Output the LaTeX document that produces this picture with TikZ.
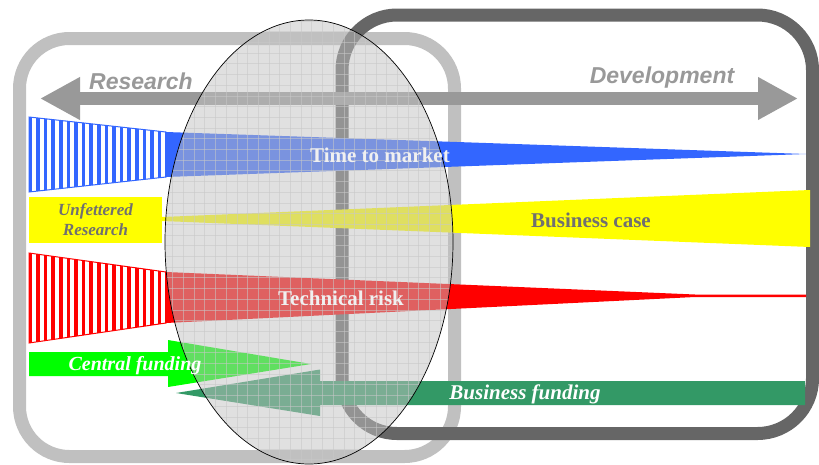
\documentclass[tikz,border=0pt]{standalone}
\usepackage{fontspec}
\setmainfont{Liberation Serif}
\setsansfont{Liberation Sans}
\usetikzlibrary{arrows.meta}
\definecolor{boxlight}{RGB}{192,192,192}
\definecolor{boxdark}{RGB}{102,102,102}
\definecolor{axisgray}{RGB}{153,153,153}
\definecolor{wedgeblue}{RGB}{51,102,255}
\definecolor{wedgered}{RGB}{255,0,0}
\definecolor{wedgeyellow}{RGB}{255,255,0}
\definecolor{fundgreen}{RGB}{0,255,0}
\definecolor{bizgreen}{RGB}{51,153,102}
\definecolor{lenscol}{RGB}{193,193,193}
\definecolor{gridcol}{RGB}{200,200,200}
\definecolor{labelgray}{RGB}{112,112,112}
\tikzset{phase/.style = {line width=13pt, rounded corners=50pt},
         axislabel/.style = {font=\sffamily\bfseries\itshape\fontsize{23}{23}\selectfont,
                             text=axisgray, inner sep=0pt},
         barlabel/.style = {font=\bfseries\fontsize{21}{21}\selectfont, inner sep=0pt},
         fundlabel/.style = {font=\bfseries\itshape\fontsize{20}{20}\selectfont,
                             text=white, inner sep=0pt},
         gridline/.style = {gridcol, draw opacity=0.55, line width=0.7pt}}

\begin{document}
\begin{tikzpicture}[x=1pt, y=-1pt]
    \useasboundingbox (0,0) rectangle (819,464);

    % research and development boxes
    \draw [phase, boxlight] (19.5,38.5) rectangle (454.5,456.5);
    \draw [phase, boxdark, rounded corners=55pt] (342,15) rectangle (812.5,433.5);

    \coordinate (west) at (40,98.5);
    \coordinate (east) at (798,98.5);
    \draw [axisgray, line width=13pt,
           {Triangle[length=40pt,width=40pt]}-{Triangle[length=40pt,width=40pt]}] (west) -- (east);
    \node [axislabel] (research) at (141,81) {Research};
    \node [axislabel] (development) at (662,78) {Development};

    % time to market
    \fill [wedgeblue] (166,132) -- (806,154) -- (166,177) -- cycle;
    \begin{scope}
      \clip (29,117) -- (166,132) -- (166,177) -- (29,192) -- cycle;
      \foreach \i in {0,...,18}
        \fill [wedgeblue] (28.5+\i*7.6,110) rectangle +(3.6,90);
    \end{scope}
    \draw [wedgeblue, line width=1pt] (29,117) -- (166,132) -- (166,177) -- (29,192) -- cycle;

    % business case
    \fill [wedgeyellow] (162,217) -- (810,190) -- (810,247) -- (162,221) -- cycle;

    % technical risk
    \fill [wedgered] (166,272) -- (695,294.5) -- (806,294.5) -- (806,297)
                     -- (695,297) -- (166,323) -- cycle;
    \begin{scope}
      \clip (29,253) -- (166,272) -- (166,323) -- (29,343) -- cycle;
      \foreach \i in {0,...,18}
        \fill [wedgered] (28.5+\i*7.6,245) rectangle +(3.6,105);
    \end{scope}
    \draw [wedgered, line width=1pt] (29,253) -- (166,272) -- (166,323) -- (29,343) -- cycle;

    % funding
    \fill [fundgreen] (29,352) -- (168,352) -- (168,340) -- (311,364) -- (168,387)
                      -- (168,376) -- (29,376) -- cycle;
    \fill [bizgreen] (176,393) -- (320,369.5) -- (320,381) -- (805,381) -- (805,405)
                     -- (320,405) -- (320,416) -- cycle;

    % overlap
    \fill [lenscol, fill opacity=0.5] (309,242) ellipse [x radius=144, y radius=222];
    \begin{scope}
      \clip (309,242) ellipse [x radius=144, y radius=222];
      \foreach \i in {0,...,28}
        \draw [gridline] (162+\i*10.7,15) -- +(0,460);
      \foreach \i in {0,...,42}
        \draw [gridline] (160,21+\i*10.7) -- +(300,0);
    \end{scope}
    \draw [line width=0.7pt] (309,242) ellipse [x radius=144, y radius=222];

    \node [fill=wedgeyellow, minimum width=133pt, minimum height=46pt, inner sep=0pt,
           align=center, text=labelgray, font=\bfseries\itshape\fontsize{17}{20}\selectfont]
          (unfettered) at (95.5,220) {Unfettered\\Research};
    \node [barlabel, text=white!88!gray] (market) at (380,155) {Time to market};
    \node [barlabel, text=labelgray] (case) at (591,220) {Business case};
    \node [barlabel, text=white!88!gray] (risk) at (341,298) {Technical risk};
    \node [fundlabel] (central) at (135,366) {Central funding};
    \node [fundlabel, font=\bfseries\itshape\fontsize{21}{21}\selectfont]
          (business) at (525,394) {Business funding};
\end{tikzpicture}
\end{document}
